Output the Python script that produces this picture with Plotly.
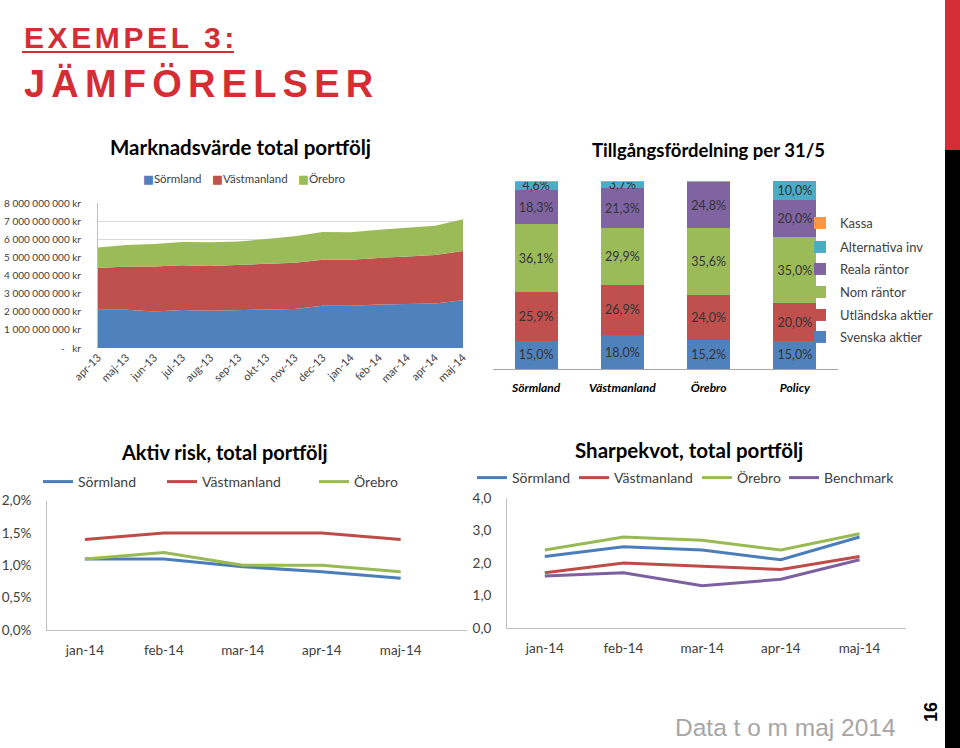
import plotly.graph_objects as go

W, H = 960, 748
def px(x): return x / W
def py(y): return 1 - y / H

# ---------------- data ----------------
months = ["apr-13", "maj-13", "jun-13", "jul-13", "aug-13", "sep-13", "okt-13",
          "nov-13", "dec-13", "jan-14", "feb-14", "mar-14", "apr-14", "maj-14"]
mv_sormland = [2.11e9, 2.11e9, 2.02e9, 2.10e9, 2.06e9, 2.10e9, 2.15e9,
               2.15e9, 2.33e9, 2.33e9, 2.40e9, 2.44e9, 2.46e9, 2.63e9]
mv_vastmanland = [2.30e9, 2.38e9, 2.47e9, 2.46e9, 2.46e9, 2.48e9, 2.48e9,
                  2.56e9, 2.54e9, 2.54e9, 2.56e9, 2.60e9, 2.67e9, 2.72e9]
mv_orebro = [1.14e9, 1.19e9, 1.25e9, 1.29e9, 1.31e9, 1.30e9, 1.38e9,
             1.45e9, 1.53e9, 1.51e9, 1.57e9, 1.61e9, 1.62e9, 1.76e9]
mv_tickvals = [0, 1e9, 2e9, 3e9, 4e9, 5e9, 6e9, 7e9, 8e9]
mv_ticktext = ["-   kr", "1 000 000 000 kr", "2 000 000 000 kr", "3 000 000 000 kr",
               "4 000 000 000 kr", "5 000 000 000 kr", "6 000 000 000 kr",
               "7 000 000 000 kr", "8 000 000 000 kr"]

alloc_cats = ["Sörmland", "Västmanland", "Örebro", "Policy"]
alloc_svenska = [15.0, 18.0, 15.2, 15.0]
alloc_utl = [25.9, 26.9, 24.0, 20.0]
alloc_nom = [36.1, 29.9, 35.6, 35.0]
alloc_reala = [18.3, 21.3, 24.8, 20.0]
alloc_alt = [4.6, 3.7, 0.0, 10.0]
alloc_kassa = [0.1, 0.2, 0.4, 0.0]

months14 = ["jan-14", "feb-14", "mar-14", "apr-14", "maj-14"]
risk_sormland = [0.011, 0.011, 0.0098, 0.009, 0.008]
risk_vastmanland = [0.014, 0.015, 0.015, 0.015, 0.014]
risk_orebro = [0.011, 0.012, 0.010, 0.010, 0.009]
risk_tickvals = [0, 0.005, 0.010, 0.015, 0.020]
risk_ticktext = ["0,0%", "0,5%", "1,0%", "1,5%", "2,0%"]

sharpe_sormland = [2.2, 2.5, 2.4, 2.1, 2.8]
sharpe_vastmanland = [1.7, 2.0, 1.9, 1.8, 2.2]
sharpe_orebro = [2.4, 2.8, 2.7, 2.4, 2.9]
sharpe_benchmark = [1.6, 1.7, 1.3, 1.5, 2.1]
sharpe_tickvals = [0, 1, 2, 3, 4]
sharpe_ticktext = ["0,0", "1,0", "2,0", "3,0", "4,0"]

# ---------------- style ----------------
BLUE, RED, GREEN, PURPLE, TEAL, ORANGE = "#4F81BD", "#C0504D", "#9BBB59", "#8064A2", "#4BACC6", "#F79646"
LBLUE, LRED, LGREEN, LPURPLE = "#4A7EBB", "#BE4B48", "#98B954", "#7D60A0"
FONT = "Lato"
TXT = "#404040"
AXC = "#BFBFBF"

fig = go.Figure()
legends = {}
lcount = [0]

def new_legend(x, y, size):
    lcount[0] += 1
    key = "legend" if lcount[0] == 1 else f"legend{lcount[0]}"
    legends[key] = dict(x=px(x), y=py(y), xanchor="left", yanchor="middle",
                        bgcolor="rgba(0,0,0,0)", borderwidth=0, itemwidth=30,
                        font=dict(family=FONT, size=size, color=TXT))
    return key

ann = []

# ---- area chart ----
xi = list(range(len(months)))
for name, vals, col, tx in [("Sörmland", mv_sormland, BLUE, 141),
                             ("Västmanland", mv_vastmanland, RED, 210),
                             ("Örebro", mv_orebro, GREEN, 296)]:
    fig.add_trace(go.Scatter(x=xi, y=vals, name=name, mode="lines", stackgroup="mv",
                             line=dict(width=0, color=col), fillcolor=col,
                             xaxis="x", yaxis="y", showlegend=False))
    ann.append(dict(x=px(tx), y=py(179),
                    text=f'<span style="color:{col};font-family:DejaVu Sans">■</span>{name}',
                    font=dict(family=FONT, size=11.5, color=TXT), xanchor="left", yanchor="middle"))

# ---- stacked bar chart ----
def pct_text(vals, show=True):
    return [(f"{v:.1f}%".replace(".", ",") if (show and v > 0) else "") for v in vals]

bar_series = [("Svenska aktier", alloc_svenska, BLUE, 337, True),
              ("Utländska aktier", alloc_utl, RED, 315, True),
              ("Nom räntor", alloc_nom, GREEN, 292, True),
              ("Reala räntor", alloc_reala, PURPLE, 269, True),
              ("Alternativa inv", alloc_alt, TEAL, 247, True),
              ("Kassa", alloc_kassa, ORANGE, 223, False)]
for name, vals, col, ly, show in bar_series:
    fig.add_trace(go.Bar(x=alloc_cats, y=vals, name=name, marker=dict(color=col, line=dict(width=0)),
                         text=pct_text(vals, show), textposition="inside", insidetextanchor="middle",
                         constraintext="none", textangle=0,
                         textfont=dict(family=FONT, size=12.5, color="#333333"),
                         xaxis="x2", yaxis="y2", legend=new_legend(800, ly, 13)))

# ---- aktiv risk ----
for name, vals, col, lx in [("Sörmland", risk_sormland, LBLUE, 38),
                             ("Västmanland", risk_vastmanland, LRED, 162),
                             ("Örebro", risk_orebro, LGREEN, 314)]:
    fig.add_trace(go.Scatter(x=list(range(5)), y=vals, name=name, mode="lines",
                             line=dict(width=3, color=col),
                             xaxis="x3", yaxis="y3", legend=new_legend(lx, 482, 14)))

# ---- sharpe ----
for name, vals, col, lx in [("Sörmland", sharpe_sormland, LBLUE, 472),
                             ("Västmanland", sharpe_vastmanland, LRED, 574),
                             ("Örebro", sharpe_orebro, LGREEN, 697),
                             ("Benchmark", sharpe_benchmark, LPURPLE, 784)]:
    fig.add_trace(go.Scatter(x=list(range(5)), y=vals, name=name, mode="lines",
                             line=dict(width=3, color=col),
                             xaxis="x4", yaxis="y4", legend=new_legend(lx, 478, 14)))

tickfont = dict(family=FONT, size=10, color=TXT)
xtickfont = dict(family=FONT, size=11, color=TXT)
lfont = dict(family=FONT, size=13.5, color=TXT)
common = dict(automargin=False, showgrid=False, zeroline=False, ticks="")

layout = dict(
    width=W, height=H, autosize=False, margin=dict(l=0, r=0, t=0, b=0, autoexpand=False),
    paper_bgcolor="white", plot_bgcolor="rgba(0,0,0,0)",
    barmode="stack", bargap=0.5, showlegend=True, separators=", ",
    hovermode=False,
    # area
    xaxis=dict(common, domain=[px(98), px(463)], anchor="y", range=[0, 13], tickvals=xi, ticktext=months,
               tickangle=-45, tickfont=xtickfont, showline=False),
    yaxis=dict(common, domain=[py(348), py(203)], anchor="x", range=[0, 8e9], tickvals=mv_tickvals,
               ticktext=mv_ticktext, tickfont=tickfont, showgrid=True, gridcolor="#D9D9D9",
               gridwidth=1, showline=True, linecolor=AXC, ticklabelstandoff=14),
    # bars
    xaxis2=dict(common, domain=[px(493), px(838)], anchor="y2", range=[-0.5, 3.5],
                tickvals=alloc_cats, ticktext=[f"<b><i>{c}</i></b>" for c in alloc_cats],
                tickfont=dict(family=FONT, size=12, color="#000000"),
                showline=True, linecolor="#A6A6A6", ticklabelstandoff=8),
    yaxis2=dict(common, domain=[py(369), py(181)], anchor="x2", range=[0, 100], visible=False),
    # aktiv risk
    xaxis3=dict(common, domain=[px(47), px(467)], anchor="y3", range=[-0.48, 4.84],
                tickvals=list(range(5)), ticktext=months14, tickfont=lfont,
                showline=True, linecolor=AXC, ticklabelstandoff=8),
    yaxis3=dict(common, domain=[py(630), py(500.7)], anchor="x3", range=[0, 0.02],
                tickvals=risk_tickvals, ticktext=risk_ticktext, tickfont=lfont,
                showline=True, linecolor=AXC, ticklabelstandoff=12),
    # sharpe
    xaxis4=dict(common, domain=[px(507), px(906)], anchor="y4", range=[-0.48, 4.59],
                tickvals=list(range(5)), ticktext=months14, tickfont=lfont,
                showline=True, linecolor=AXC, ticklabelstandoff=8),
    yaxis4=dict(common, domain=[py(628), py(498)], anchor="x4", range=[0, 4],
                tickvals=sharpe_tickvals, ticktext=sharpe_ticktext, tickfont=lfont,
                showline=True, linecolor=AXC, ticklabelstandoff=12),
)
layout.update(legends)
fig.update_layout(**layout)

TITLE_RED = "#D42E34"
ann += [
    dict(x=px(22), y=py(38), text='<b><span style="letter-spacing:3.6px">EXEMPEL 3:</span></b>',
         font=dict(family="Liberation Sans", size=30, color=TITLE_RED), xanchor="left", yanchor="middle"),
    dict(x=px(22), y=py(84), text='<b><span style="letter-spacing:6.2px">JÄMFÖRELSER</span></b>',
         font=dict(family="Liberation Sans", size=38, color=TITLE_RED), xanchor="left", yanchor="middle"),
    dict(x=px(240), y=py(147), text="<b>Marknadsvärde total portfölj</b>",
         font=dict(family=FONT, size=20.5, color="#000000"), xanchor="center", yanchor="middle"),
    dict(x=px(708), y=py(150), text="<b>Tillgångsfördelning per 31/5</b>",
         font=dict(family=FONT, size=18.5, color="#000000"), xanchor="center", yanchor="middle"),
    dict(x=px(224), y=py(452), text="<b>Aktiv risk, total portfölj</b>",
         font=dict(family=FONT, size=20, color="#000000"), xanchor="center", yanchor="middle"),
    dict(x=px(689), y=py(450), text="<b>Sharpekvot, total portfölj</b>",
         font=dict(family=FONT, size=20.5, color="#000000"), xanchor="center", yanchor="middle"),
    dict(x=px(898), y=py(727), text="Data t o m maj 2014",
         font=dict(family="Liberation Sans", size=24.5, color="#A6A6A6"), xanchor="right", yanchor="middle"),
    dict(x=px(931), y=py(712), text="<b>16</b>", textangle=-90,
         font=dict(family="Liberation Sans", size=18, color="#000000"), xanchor="center", yanchor="middle"),
]
for a in ann:
    a.update(xref="paper", yref="paper", showarrow=False)
fig.update_layout(annotations=ann)

shapes = [
    dict(type="line", x0=px(22), x1=px(234), y0=py(52), y1=py(52), line=dict(color=TITLE_RED, width=2)),
    dict(type="rect", x0=px(945), x1=1, y0=py(0), y1=py(150), fillcolor=TITLE_RED, line=dict(width=0)),
    dict(type="rect", x0=px(945), x1=1, y0=py(150), y1=0, fillcolor="#000000", line=dict(width=0)),
]
for s in shapes:
    s.update(xref="paper", yref="paper", layer="above")
fig.update_layout(shapes=shapes)

fig.write_html("out.html", config=dict(displayModeBar=False),
               post_script="document.body.style.margin='0';")
